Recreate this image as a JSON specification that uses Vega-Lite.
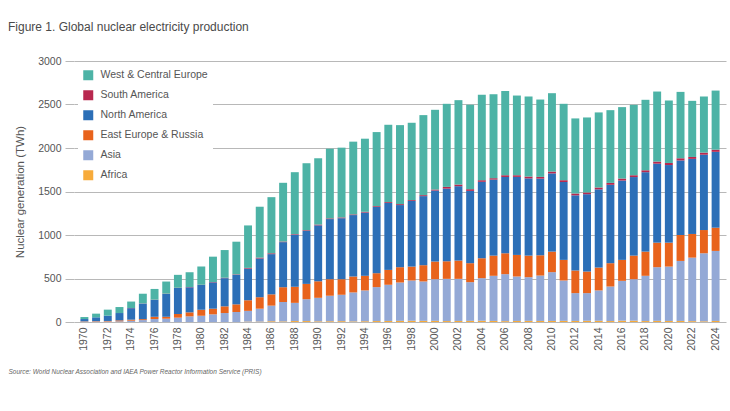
{
"$schema": "https://vega.github.io/schema/vega-lite/v6.json",
"autosize": "none",
"width": 652,
"height": 261,
"padding": {"left": 74, "top": 61, "right": 4, "bottom": 89},
"background": "white",
"title": {"text": "Figure 1. Global nuclear electricity production", "anchor": "start", "frame": "group", "dx": -66, "offset": 22, "font": "Liberation Sans", "fontSize": 12, "fontWeight": "normal", "color": "#4a4a4a"},
"data": {"values": [
{"year":1970,"region":"Africa","twh":0},{"year":1970,"region":"Asia","twh":4},{"year":1970,"region":"East Europe & Russia","twh":4},{"year":1970,"region":"North America","twh":26},{"year":1970,"region":"South America","twh":0},{"year":1970,"region":"West & Central Europe","twh":23},
{"year":1971,"region":"Africa","twh":0},{"year":1971,"region":"Asia","twh":5},{"year":1971,"region":"East Europe & Russia","twh":5},{"year":1971,"region":"North America","twh":44},{"year":1971,"region":"South America","twh":0},{"year":1971,"region":"West & Central Europe","twh":42},
{"year":1972,"region":"Africa","twh":0},{"year":1972,"region":"Asia","twh":6},{"year":1972,"region":"East Europe & Russia","twh":6},{"year":1972,"region":"North America","twh":61},{"year":1972,"region":"South America","twh":0},{"year":1972,"region":"West & Central Europe","twh":69},
{"year":1973,"region":"Africa","twh":0},{"year":1973,"region":"Asia","twh":8},{"year":1973,"region":"East Europe & Russia","twh":11},{"year":1973,"region":"North America","twh":84},{"year":1973,"region":"South America","twh":0},{"year":1973,"region":"West & Central Europe","twh":69},
{"year":1974,"region":"Africa","twh":0},{"year":1974,"region":"Asia","twh":15},{"year":1974,"region":"East Europe & Russia","twh":12},{"year":1974,"region":"North America","twh":132},{"year":1974,"region":"South America","twh":2},{"year":1974,"region":"West & Central Europe","twh":74},
{"year":1975,"region":"Africa","twh":0},{"year":1975,"region":"Asia","twh":22},{"year":1975,"region":"East Europe & Russia","twh":11},{"year":1975,"region":"North America","twh":179},{"year":1975,"region":"South America","twh":2},{"year":1975,"region":"West & Central Europe","twh":111},
{"year":1976,"region":"Africa","twh":0},{"year":1976,"region":"Asia","twh":34},{"year":1976,"region":"East Europe & Russia","twh":26},{"year":1976,"region":"North America","twh":195},{"year":1976,"region":"South America","twh":2},{"year":1976,"region":"West & Central Europe","twh":123},
{"year":1977,"region":"Africa","twh":0},{"year":1977,"region":"Asia","twh":38},{"year":1977,"region":"East Europe & Russia","twh":22},{"year":1977,"region":"North America","twh":263},{"year":1977,"region":"South America","twh":3},{"year":1977,"region":"West & Central Europe","twh":139},
{"year":1978,"region":"Africa","twh":0},{"year":1978,"region":"Asia","twh":50},{"year":1978,"region":"East Europe & Russia","twh":42},{"year":1978,"region":"North America","twh":299},{"year":1978,"region":"South America","twh":3},{"year":1978,"region":"West & Central Europe","twh":148},
{"year":1979,"region":"Africa","twh":0},{"year":1979,"region":"Asia","twh":65},{"year":1979,"region":"East Europe & Russia","twh":46},{"year":1979,"region":"North America","twh":288},{"year":1979,"region":"South America","twh":3},{"year":1979,"region":"West & Central Europe","twh":170},
{"year":1980,"region":"Africa","twh":0},{"year":1980,"region":"Asia","twh":73},{"year":1980,"region":"East Europe & Russia","twh":69},{"year":1980,"region":"North America","twh":284},{"year":1980,"region":"South America","twh":3},{"year":1980,"region":"West & Central Europe","twh":209},
{"year":1981,"region":"Africa","twh":0},{"year":1981,"region":"Asia","twh":88},{"year":1981,"region":"East Europe & Russia","twh":65},{"year":1981,"region":"North America","twh":303},{"year":1981,"region":"South America","twh":4},{"year":1981,"region":"West & Central Europe","twh":291},
{"year":1982,"region":"Africa","twh":0},{"year":1982,"region":"Asia","twh":103},{"year":1982,"region":"East Europe & Russia","twh":77},{"year":1982,"region":"North America","twh":324},{"year":1982,"region":"South America","twh":5},{"year":1982,"region":"West & Central Europe","twh":318},
{"year":1983,"region":"Africa","twh":0},{"year":1983,"region":"Asia","twh":115},{"year":1983,"region":"East Europe & Russia","twh":88},{"year":1983,"region":"North America","twh":340},{"year":1983,"region":"South America","twh":5},{"year":1983,"region":"West & Central Europe","twh":375},
{"year":1984,"region":"Africa","twh":5},{"year":1984,"region":"Asia","twh":123},{"year":1984,"region":"East Europe & Russia","twh":122},{"year":1984,"region":"North America","twh":364},{"year":1984,"region":"South America","twh":8},{"year":1984,"region":"West & Central Europe","twh":488},
{"year":1985,"region":"Africa","twh":5},{"year":1985,"region":"Asia","twh":148},{"year":1985,"region":"East Europe & Russia","twh":132},{"year":1985,"region":"North America","twh":445},{"year":1985,"region":"South America","twh":10},{"year":1985,"region":"West & Central Europe","twh":585},
{"year":1986,"region":"Africa","twh":9},{"year":1986,"region":"Asia","twh":179},{"year":1986,"region":"East Europe & Russia","twh":130},{"year":1986,"region":"North America","twh":462},{"year":1986,"region":"South America","twh":10},{"year":1986,"region":"West & Central Europe","twh":645},
{"year":1987,"region":"Africa","twh":7},{"year":1987,"region":"Asia","twh":223},{"year":1987,"region":"East Europe & Russia","twh":170},{"year":1987,"region":"North America","twh":518},{"year":1987,"region":"South America","twh":7},{"year":1987,"region":"West & Central Europe","twh":675},
{"year":1988,"region":"Africa","twh":11},{"year":1988,"region":"Asia","twh":209},{"year":1988,"region":"East Europe & Russia","twh":185},{"year":1988,"region":"North America","twh":598},{"year":1988,"region":"South America","twh":7},{"year":1988,"region":"West & Central Europe","twh":712},
{"year":1989,"region":"Africa","twh":11},{"year":1989,"region":"Asia","twh":251},{"year":1989,"region":"East Europe & Russia","twh":176},{"year":1989,"region":"North America","twh":609},{"year":1989,"region":"South America","twh":8},{"year":1989,"region":"West & Central Europe","twh":770},
{"year":1990,"region":"Africa","twh":8},{"year":1990,"region":"Asia","twh":270},{"year":1990,"region":"East Europe & Russia","twh":190},{"year":1990,"region":"North America","twh":643},{"year":1990,"region":"South America","twh":9},{"year":1990,"region":"West & Central Europe","twh":762},
{"year":1991,"region":"Africa","twh":9},{"year":1991,"region":"Asia","twh":293},{"year":1991,"region":"East Europe & Russia","twh":190},{"year":1991,"region":"North America","twh":691},{"year":1991,"region":"South America","twh":8},{"year":1991,"region":"West & Central Europe","twh":801},
{"year":1992,"region":"Africa","twh":10},{"year":1992,"region":"Asia","twh":303},{"year":1992,"region":"East Europe & Russia","twh":179},{"year":1992,"region":"North America","twh":701},{"year":1992,"region":"South America","twh":9},{"year":1992,"region":"West & Central Europe","twh":802},
{"year":1993,"region":"Africa","twh":7},{"year":1993,"region":"Asia","twh":333},{"year":1993,"region":"East Europe & Russia","twh":183},{"year":1993,"region":"North America","twh":706},{"year":1993,"region":"South America","twh":8},{"year":1993,"region":"West & Central Europe","twh":836},
{"year":1994,"region":"Africa","twh":9},{"year":1994,"region":"Asia","twh":354},{"year":1994,"region":"East Europe & Russia","twh":168},{"year":1994,"region":"North America","twh":727},{"year":1994,"region":"South America","twh":9},{"year":1994,"region":"West & Central Europe","twh":840},
{"year":1995,"region":"Africa","twh":11},{"year":1995,"region":"Asia","twh":390},{"year":1995,"region":"East Europe & Russia","twh":160},{"year":1995,"region":"North America","twh":762},{"year":1995,"region":"South America","twh":9},{"year":1995,"region":"West & Central Europe","twh":851},
{"year":1996,"region":"Africa","twh":12},{"year":1996,"region":"Asia","twh":416},{"year":1996,"region":"East Europe & Russia","twh":171},{"year":1996,"region":"North America","twh":769},{"year":1996,"region":"South America","twh":10},{"year":1996,"region":"West & Central Europe","twh":889},
{"year":1997,"region":"Africa","twh":13},{"year":1997,"region":"Asia","twh":441},{"year":1997,"region":"East Europe & Russia","twh":176},{"year":1997,"region":"North America","twh":714},{"year":1997,"region":"South America","twh":11},{"year":1997,"region":"West & Central Europe","twh":908},
{"year":1998,"region":"Africa","twh":14},{"year":1998,"region":"Asia","twh":463},{"year":1998,"region":"East Europe & Russia","twh":160},{"year":1998,"region":"North America","twh":754},{"year":1998,"region":"South America","twh":10},{"year":1998,"region":"West & Central Europe","twh":889},
{"year":1999,"region":"Africa","twh":13},{"year":1999,"region":"Asia","twh":453},{"year":1999,"region":"East Europe & Russia","twh":187},{"year":1999,"region":"North America","twh":794},{"year":1999,"region":"South America","twh":11},{"year":1999,"region":"West & Central Europe","twh":920},
{"year":2000,"region":"Africa","twh":13},{"year":2000,"region":"Asia","twh":479},{"year":2000,"region":"East Europe & Russia","twh":203},{"year":2000,"region":"North America","twh":816},{"year":2000,"region":"South America","twh":12},{"year":2000,"region":"West & Central Europe","twh":916},
{"year":2001,"region":"Africa","twh":11},{"year":2001,"region":"Asia","twh":485},{"year":2001,"region":"East Europe & Russia","twh":202},{"year":2001,"region":"North America","twh":835},{"year":2001,"region":"South America","twh":20},{"year":2001,"region":"West & Central Europe","twh":955},
{"year":2002,"region":"Africa","twh":12},{"year":2002,"region":"Asia","twh":484},{"year":2002,"region":"East Europe & Russia","twh":210},{"year":2002,"region":"North America","twh":855},{"year":2002,"region":"South America","twh":19},{"year":2002,"region":"West & Central Europe","twh":970},
{"year":2003,"region":"Africa","twh":13},{"year":2003,"region":"Asia","twh":445},{"year":2003,"region":"East Europe & Russia","twh":218},{"year":2003,"region":"North America","twh":831},{"year":2003,"region":"South America","twh":20},{"year":2003,"region":"West & Central Europe","twh":969},
{"year":2004,"region":"Africa","twh":14},{"year":2004,"region":"Asia","twh":490},{"year":2004,"region":"East Europe & Russia","twh":229},{"year":2004,"region":"North America","twh":878},{"year":2004,"region":"South America","twh":19},{"year":2004,"region":"West & Central Europe","twh":981},
{"year":2005,"region":"Africa","twh":12},{"year":2005,"region":"Asia","twh":519},{"year":2005,"region":"East Europe & Russia","twh":232},{"year":2005,"region":"North America","twh":874},{"year":2005,"region":"South America","twh":16},{"year":2005,"region":"West & Central Europe","twh":965},
{"year":2006,"region":"Africa","twh":10},{"year":2006,"region":"Asia","twh":540},{"year":2006,"region":"East Europe & Russia","twh":240},{"year":2006,"region":"North America","twh":877},{"year":2006,"region":"South America","twh":20},{"year":2006,"region":"West & Central Europe","twh":968},
{"year":2007,"region":"Africa","twh":12},{"year":2007,"region":"Asia","twh":511},{"year":2007,"region":"East Europe & Russia","twh":248},{"year":2007,"region":"North America","twh":897},{"year":2007,"region":"South America","twh":19},{"year":2007,"region":"West & Central Europe","twh":916},
{"year":2008,"region":"Africa","twh":13},{"year":2008,"region":"Asia","twh":502},{"year":2008,"region":"East Europe & Russia","twh":248},{"year":2008,"region":"North America","twh":888},{"year":2008,"region":"South America","twh":21},{"year":2008,"region":"West & Central Europe","twh":920},
{"year":2009,"region":"Africa","twh":12},{"year":2009,"region":"Asia","twh":522},{"year":2009,"region":"East Europe & Russia","twh":233},{"year":2009,"region":"North America","twh":881},{"year":2009,"region":"South America","twh":20},{"year":2009,"region":"West & Central Europe","twh":889},
{"year":2010,"region":"Africa","twh":12},{"year":2010,"region":"Asia","twh":561},{"year":2010,"region":"East Europe & Russia","twh":236},{"year":2010,"region":"North America","twh":899},{"year":2010,"region":"South America","twh":21},{"year":2010,"region":"West & Central Europe","twh":901},
{"year":2011,"region":"Africa","twh":13},{"year":2011,"region":"Asia","twh":464},{"year":2011,"region":"East Europe & Russia","twh":237},{"year":2011,"region":"North America","twh":895},{"year":2011,"region":"South America","twh":21},{"year":2011,"region":"West & Central Europe","twh":878},
{"year":2012,"region":"Africa","twh":12},{"year":2012,"region":"Asia","twh":320},{"year":2012,"region":"East Europe & Russia","twh":260},{"year":2012,"region":"North America","twh":864},{"year":2012,"region":"South America","twh":21},{"year":2012,"region":"West & Central Europe","twh":863},
{"year":2013,"region":"Africa","twh":14},{"year":2013,"region":"Asia","twh":318},{"year":2013,"region":"East Europe & Russia","twh":248},{"year":2013,"region":"North America","twh":889},{"year":2013,"region":"South America","twh":20},{"year":2013,"region":"West & Central Europe","twh":862},
{"year":2014,"region":"Africa","twh":14},{"year":2014,"region":"Asia","twh":349},{"year":2014,"region":"East Europe & Russia","twh":263},{"year":2014,"region":"North America","twh":899},{"year":2014,"region":"South America","twh":21},{"year":2014,"region":"West & Central Europe","twh":863},
{"year":2015,"region":"Africa","twh":11},{"year":2015,"region":"Asia","twh":397},{"year":2015,"region":"East Europe & Russia","twh":268},{"year":2015,"region":"North America","twh":901},{"year":2015,"region":"South America","twh":22},{"year":2015,"region":"West & Central Europe","twh":836},
{"year":2016,"region":"Africa","twh":15},{"year":2016,"region":"Asia","twh":458},{"year":2016,"region":"East Europe & Russia","twh":241},{"year":2016,"region":"North America","twh":912},{"year":2016,"region":"South America","twh":23},{"year":2016,"region":"West & Central Europe","twh":821},
{"year":2017,"region":"Africa","twh":15},{"year":2017,"region":"Asia","twh":477},{"year":2017,"region":"East Europe & Russia","twh":271},{"year":2017,"region":"North America","twh":903},{"year":2017,"region":"South America","twh":21},{"year":2017,"region":"West & Central Europe","twh":809},
{"year":2018,"region":"Africa","twh":11},{"year":2018,"region":"Asia","twh":520},{"year":2018,"region":"East Europe & Russia","twh":278},{"year":2018,"region":"North America","twh":913},{"year":2018,"region":"South America","twh":22},{"year":2018,"region":"West & Central Europe","twh":810},
{"year":2019,"region":"Africa","twh":13},{"year":2019,"region":"Asia","twh":617},{"year":2019,"region":"East Europe & Russia","twh":282},{"year":2019,"region":"North America","twh":908},{"year":2019,"region":"South America","twh":24},{"year":2019,"region":"West & Central Europe","twh":805},
{"year":2020,"region":"Africa","twh":12},{"year":2020,"region":"Asia","twh":625},{"year":2020,"region":"East Europe & Russia","twh":275},{"year":2020,"region":"North America","twh":892},{"year":2020,"region":"South America","twh":24},{"year":2020,"region":"West & Central Europe","twh":718},
{"year":2021,"region":"Africa","twh":12},{"year":2021,"region":"Asia","twh":690},{"year":2021,"region":"East Europe & Russia","twh":298},{"year":2021,"region":"North America","twh":857},{"year":2021,"region":"South America","twh":25},{"year":2021,"region":"West & Central Europe","twh":763},
{"year":2022,"region":"Africa","twh":10},{"year":2022,"region":"Asia","twh":730},{"year":2022,"region":"East Europe & Russia","twh":272},{"year":2022,"region":"North America","twh":863},{"year":2022,"region":"South America","twh":22},{"year":2022,"region":"West & Central Europe","twh":645},
{"year":2023,"region":"Africa","twh":8},{"year":2023,"region":"Asia","twh":782},{"year":2023,"region":"East Europe & Russia","twh":267},{"year":2023,"region":"North America","twh":866},{"year":2023,"region":"South America","twh":24},{"year":2023,"region":"West & Central Europe","twh":645},
{"year":2024,"region":"Africa","twh":12},{"year":2024,"region":"Asia","twh":805},{"year":2024,"region":"East Europe & Russia","twh":267},{"year":2024,"region":"North America","twh":872},{"year":2024,"region":"South America","twh":25},{"year":2024,"region":"West & Central Europe","twh":679}
]},
"mark": {"type": "bar"},
"encoding": {
"x": {"field": "year", "type": "ordinal",
 "scale": {"paddingInner": 0.32, "paddingOuter": 0.55},
 "axis": {"values": [1970,1972,1974,1976,1978,1980,1982,1984,1986,1988,1990,1992,1994,1996,1998,2000,2002,2004,2006,2008,2010,2012,2014,2016,2018,2020,2022,2024],
  "labelAngle": -90, "labelFont": "Liberation Sans", "labelFontSize": 10.5, "labelColor": "#555", "labelPadding": 5,
  "ticks": false, "domain": false, "grid": false,
  "title": "Source: World Nuclear Association and IAEA Power Reactor Information Service (PRIS)",
  "titleFont": "Liberation Sans", "titleFontSize": 6.5, "titleFontStyle": "italic", "titleFontWeight": "normal", "titleColor": "#666",
  "titleAnchor": "start", "titleAlign": "left", "titleBaseline": "middle", "titleX": -66, "titleY": 49}},
"y": {"field": "twh", "type": "quantitative", "stack": "zero",
 "scale": {"domain": [0, 3000]},
 "axis": {"values": [0,500,1000,1500,2000,2500,3000], "format": "d", "grid": true, "gridColor": "#b8b8b8", "gridWidth": 1,
  "domain": false, "ticks": true, "tickSize": 9, "tickColor": "#b8b8b8",
  "labelFont": "Liberation Sans", "labelFontSize": 10.5, "labelColor": "#555", "labelPadding": 4,
  "title": "Nuclear generation (TWh)", "titleFont": "Liberation Sans", "titleFontSize": 11.5, "titleFontWeight": "normal", "titleColor": "#555", "titlePadding": 12}},
"color": {"field": "region", "type": "nominal",
 "scale": {"domain": ["West & Central Europe","South America","North America","East Europe & Russia","Asia","Africa"],
  "range": ["#4db3a6","#b8284f","#2c6fb7","#e8631c","#94a9d6","#f7ab3b"]},
 "legend": {"orient": "top-left", "offset": 4, "title": null, "symbolType": "square", "symbolSize": 100, "symbolStrokeWidth": 0,
  "labelFont": "Liberation Sans", "labelFontSize": 10.5, "labelColor": "#555", "labelOffset": 7, "rowPadding": 9,
  "fillColor": "white", "padding": 5}},
"order": {"field": "region", "sort": "ascending"}
},
"config": {"view": {"stroke": null}}
}
